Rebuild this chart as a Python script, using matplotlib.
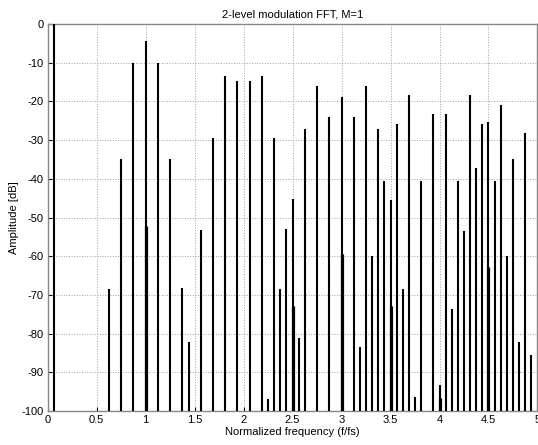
import matplotlib
matplotlib.use("Agg")
import matplotlib.pyplot as plt
import numpy as np

# Spectral lines (normalized frequency f/fs, amplitude dB)
freqs = [0.0625, 0.625, 0.75, 0.875, 1.0, 1.125, 1.25, 1.375, 1.4375, 1.5625,
         1.6875, 1.8125, 1.9375, 2.0625, 2.1875, 2.25, 2.3125, 2.375, 2.4375, 2.5,
         2.5625, 2.625, 2.75, 2.875, 3.0, 3.125, 3.1875, 3.25, 3.3125, 3.375,
         3.4375, 3.5, 3.5625, 3.625, 3.6875, 3.75, 3.8125, 3.9375, 4.0, 4.0625,
         4.125, 4.1875, 4.25, 4.3125, 4.375, 4.4375, 4.5, 4.5625, 4.625, 4.6875,
         4.75, 4.8125, 4.875, 4.9375]
amps = [0.0, -68.5, -35.0, -10.0, -4.3, -10.0, -35.0, -68.3, -82.1, -53.1,
        -29.4, -13.4, -14.7, -14.7, -13.4, -97.0, -29.4, -68.5, -53.0, -45.3,
        -81.2, -27.2, -15.9, -24.0, -18.9, -24.0, -83.4, -15.9, -59.9, -27.1,
        -40.6, -45.4, -25.9, -68.6, -18.4, -96.3, -40.6, -23.3, -93.3, -23.3,
        -73.6, -40.6, -53.5, -18.4, -37.3, -25.9, -25.4, -40.6, -21.0, -59.9,
        -35.0, -82.1, -28.2, -85.5]

# Secondary (overlapping) components drawn thicker
freqs2 = [1.0, 2.5, 3.0, 3.5, 4.0, 4.5]
amps2 = [-52.2, -72.8, -59.4, -72.8, -96.6, -62.7]

xticks = [0, 0.5, 1, 1.5, 2, 2.5, 3, 3.5, 4, 4.5, 5]
yticks = list(range(-100, 1, 10))

plt.rcParams['font.family'] = ['Liberation Sans', 'DejaVu Sans']

fig = plt.figure(figsize=(5.38, 4.45), dpi=100)
ax = fig.add_axes([0.0887, 0.0764, 0.9103, 0.8696])

ax.vlines(freqs, -100, amps, colors='black', linewidth=1.5, zorder=3)
ax.vlines(freqs2, -100, amps2, colors='black', linewidth=2.3, zorder=3)

ax.set_xlim(0, 5)
ax.set_ylim(-100, 0)
ax.set_xticks(xticks)
ax.set_xticklabels([f"{t:g}" for t in xticks])
ax.set_yticks(yticks)
ax.set_yticklabels([str(t) for t in yticks])
ax.grid(True, linestyle=':', color='#a0a0a0', linewidth=0.7, zorder=0)
ax.set_axisbelow(True)
ax.tick_params(direction='in', length=3, labelsize=8, colors='black', pad=3)
for t in ax.get_xticklines() + ax.get_yticklines():
    t.set_color('#777777')
for s in ax.spines.values():
    s.set_color('#888888')
    s.set_linewidth(1.0)

ax.set_title("2-level modulation FFT, M=1", fontsize=8, pad=5)
ax.set_xlabel("Normalized frequency (f/fs)", fontsize=8, labelpad=1)
ax.set_ylabel("Amplitude [dB]", fontsize=8, labelpad=2)

fig.savefig("out.png", dpi=100)
